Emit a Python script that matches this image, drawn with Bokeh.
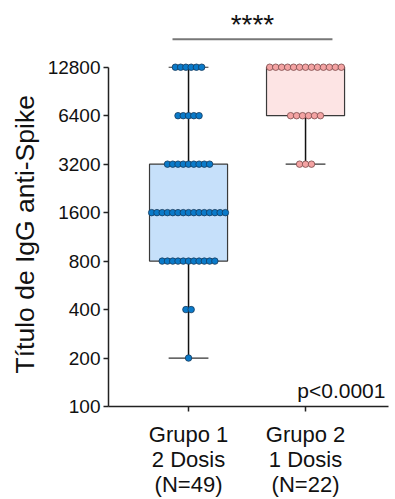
from bokeh.plotting import figure
from bokeh.models import FixedTicker, Label, Title
from bokeh.embed import file_html
from bokeh.resources import INLINE

# ---- data ----
groups = ["Grupo 1\n2 Dosis\n(N=49)", "Grupo 2\n1 Dosis\n(N=22)"]
titer_levels = [200, 400, 800, 1600, 3200, 6400, 12800]
counts_g1 = [1, 2, 11, 15, 9, 5, 6]
counts_g2 = [0, 0, 0, 0, 3, 6, 13]
box_q1 = [800, 6400]
box_median = [1600, 12800]
box_q3 = [3200, 12800]
whisk_low = [200, 3200]
whisk_high = [12800, 12800]
y_ticks = [100, 200, 400, 800, 1600, 3200, 6400, 12800]
y_tick_labels = ["100", "200", "400", "800", "1600", "3200", "6400", "12800"]
y_title = "Título de IgG anti-Spike"

box_fill = ["#c6e0fa", "#fde4e4"]
dot_fill = ["#0a7ac9", "#f4a3a3"]
dot_line = ["#173a5c", "#7a4a4a"]

FONT = "Liberation Sans"

p = figure(width=395, height=499, y_axis_type="log",
           x_range=(0.316, 2.709), y_range=(100, 28000),
           output_backend="svg", toolbar_location=None,
           min_border_left=108, min_border_right=7, min_border_top=12,
           min_border_bottom=91)
p.outline_line_color = None
p.grid.visible = False
p.background_fill_color = None
p.border_fill_color = "white"

xs = [1, 2]
bw = 0.667
cw = 0.34
# boxes
p.quad(left=[x - bw / 2 for x in xs], right=[x + bw / 2 for x in xs],
       bottom=box_q1, top=box_q3, fill_color=box_fill,
       line_color="#3a3a3a", line_width=1.2)
# medians
p.segment(x0=[x - bw / 2 for x in xs], x1=[x + bw / 2 for x in xs],
          y0=box_median, y1=box_median, line_color="#3a3a3a", line_width=1.5)
# whiskers
p.segment(x0=xs, x1=xs, y0=box_q3, y1=whisk_high, line_color="#111111", line_width=1.5)
p.segment(x0=xs, x1=xs, y0=whisk_low, y1=box_q1, line_color="#111111", line_width=1.5)
p.segment(x0=[x - cw / 2 for x in xs], x1=[x + cw / 2 for x in xs],
          y0=whisk_high, y1=whisk_high, line_color="#333333", line_width=1.2)
p.segment(x0=[x - cw / 2 for x in xs], x1=[x + cw / 2 for x in xs],
          y0=whisk_low, y1=whisk_low, line_color="#333333", line_width=1.2)

# dots (centred rows, like a beeswarm)
spacing = [0.045, 0.051]
for gi, counts in enumerate([counts_g1, counts_g2]):
    dx, dy = [], []
    for lvl, n in zip(titer_levels, counts):
        for i in range(n):
            dx.append(xs[gi] + (i - (n - 1) / 2) * spacing[gi])
            dy.append(lvl)
    p.scatter(dx, dy, size=6.5, fill_color=dot_fill[gi],
              line_color=dot_line[gi], line_width=0.8)

# axes
p.yaxis.ticker = FixedTicker(ticks=y_ticks, minor_ticks=[])
p.yaxis.major_label_overrides = {t: l for t, l in zip(y_ticks, y_tick_labels)}
p.yaxis.bounds = (100, 12800)
p.yaxis.major_label_text_font = FONT
p.yaxis.major_label_text_font_size = "19px"
p.yaxis.major_label_text_color = "#111111"
p.yaxis.major_label_standoff = 3

p.xaxis.ticker = FixedTicker(ticks=xs, minor_ticks=[])
p.xaxis.major_label_overrides = {x: g for x, g in zip(xs, groups)}
p.xaxis.major_label_text_font = FONT
p.xaxis.major_label_text_font_size = "22px"
p.xaxis.major_label_text_color = "#111111"
p.xaxis.major_label_text_line_height = 1.0
p.xaxis.major_label_standoff = 10

for ax in (p.xaxis, p.yaxis):
    ax.axis_line_color = "#222222"
    ax.axis_line_width = 1.5
    ax.major_tick_line_color = "#222222"
    ax.major_tick_line_width = 1.5
    ax.major_tick_out = 5
    ax.major_tick_in = 0
    ax.minor_tick_line_color = None

# y axis title, placed along the axis span
p.add_layout(Title(text=y_title, align="left", offset=33, standoff=10,
                   text_font=FONT, text_font_size="26.5px",
                   text_font_style="normal", text_color="#111111"), "left")

# significance annotation
p.segment(x0=[0.863], x1=[2.23], y0=[19100], y1=[19100],
          line_color="#777777", line_width=1.8)
p.add_layout(Label(x=1.546, y=23600, text="****", text_font=FONT,
                   text_font_size="28px", text_align="center",
                   text_baseline="alphabetic", text_color="#111111"))
p.add_layout(Label(x=2.683, y=125, text="p<0.0001", text_font=FONT,
                   text_font_size="21px", text_align="right",
                   text_baseline="alphabetic", text_color="#111111"))

open("out.html", "w").write(file_html(p, INLINE))
